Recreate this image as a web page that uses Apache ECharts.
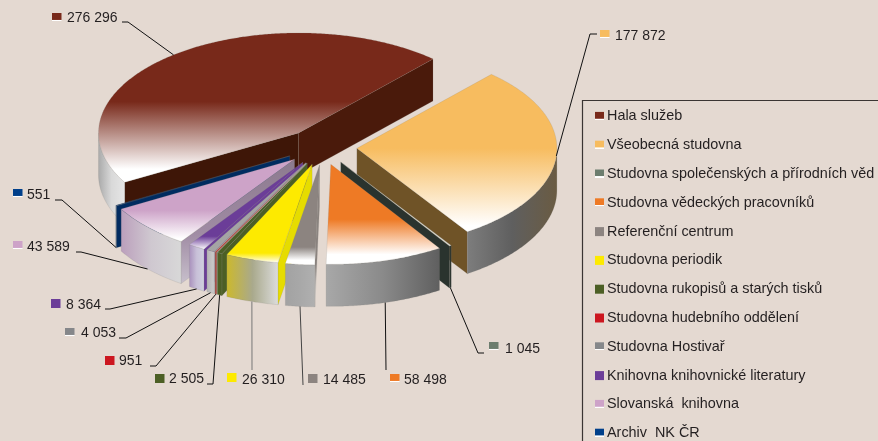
<!DOCTYPE html>
<html><head><meta charset="utf-8">
<style>html,body{margin:0;padding:0;background:#e4d9d1}#c{width:878px;height:441px}</style>
<script src="https://cdn.jsdelivr.net/npm/echarts@6/dist/echarts.min.js"></script>
</head><body><div id="c"></div>
<script>
const categories=['Hala služeb','Všeobecná studovna','Studovna společenských a přírodních věd','Studovna vědeckých pracovníků','Referenční centrum','Studovna periodik','Studovna rukopisů a starých tisků','Studovna hudebního oddělení','Studovna Hostivař','Knihovna knihovnické literatury','Slovanská  knihovna','Archiv  NK ČR'];
const values=[276296,177872,1045,58498,14485,26310,2505,951,4053,8364,43589,551];
const valueLabels=['276 296','177 872','1 045','58 498','14 485','26 310','2 505','951','4 053','8 364','43 589','551'];

// Pie projection
const START=209.6,RX=200,RY=100,CX=321,CY=147,EXPLODE=0.18,DEPTH=42;
const sliceNudge=[0,0,0,0,2,2,2,2,2,1,0,0];
const FONT='14px "Liberation Sans", Arial, sans-serif', TEXT='#231f20';
const rad=d=>d*Math.PI/180;
const total=values.reduce((a,b)=>a+b,0);
let cursor=START;
const geo=values.map((v,i)=>{const a0=cursor,a1=cursor-v/total*360;cursor=a1;const m=(a0+a1)/2;
  return {a0,a1,m,cx:CX+EXPLODE*RX*Math.cos(rad(m))+sliceNudge[i],cy:CY-EXPLODE*RY*Math.sin(rad(m))};});
const pt=(g,a,dy=0)=>[g.cx+RX*Math.cos(rad(a)),g.cy-RY*Math.sin(rad(a))+dy];
const samples=g=>{const s=[];for(let a=g.a0;a>g.a1;a-=0.5)s.push(a);s.push(g.a1);return s;};

const linear=(horizontal,stops)=>({type:'linear',x:0,y:0,x2:horizontal?1:0,y2:horizontal?0:1,
  colorStops:stops.map(([offset,color])=>({offset,color}))});
const fade=(c,solid,white)=>linear(false,[[0,c],[solid,c],[white,'#ffffff'],[1,'#ffffff']]);
const H=(...cs)=>linear(true,cs.map((c,i)=>[cs.length>1?i/(cs.length-1):0,c]));

const sliceStyle=[
 {top:fade('#78291a',.46,.91),w0:'#3e1607',w1:'#4a1a0b',arc:H('#a9a9a9','#d9d9d9','#e6e6e6')},
 {top:fade('#f7bc5f',.47,.96),w0:'#6f5327',w1:'#6f5327',arc:H('#7d7d7d','#5f5f5f','#6a5b42')},
 {top:'#d8d8d0',w0:'#2a332e',w1:'#2a332e',arc:H('#2a332e','#2a332e')},
 {top:fade('#ee7a25',.55,.9),w0:'#555',w1:'#555',arc:H('#a8a8a8','#8a8a8a','#5f5f5f')},
 {top:fade('#8c8480',.82,.95),w0:fade('#8c8480',.7,.98),w1:'#888',arc:H('#a2a2a2','#a8a8a8','#b0b0b0')},
 {top:fade('#fdea00',.9,1),w0:'#e6dc00',w1:'#e6dc00',arc:H('#ccb92c','#a9a98c','#dcdcdc')},
 {top:'#4c5f25',w0:'#4c5f25',w1:'#4c5f25',arc:H('#4c5f25','#4c5f25')},
 {top:'#b9453c',w0:'#c8c8c8',w1:'#c8c8c8',arc:H('#a8483f','#a8483f')},
 {top:'#a4a4a4',w0:'#b8b8b8',w1:'#b8b8b8',arc:H('#b4b4b4','#cccccc')},
 {top:fade('#6b3d98',.85,1),w0:'#6b3d98',w1:'#6b3d98',arc:H('#a890bc','#c8c0d8','#d0d0e0')},
 {top:fade('#cda3c8',.62,.96),w0:linear(false,[[0,'#8c7a8e'],[.6,'#a08ca4'],[1,'#c8c0cc']]),w1:'#8c7a8e',arc:H('#bb9fbc','#cfc8d0','#d8d8d8')},
 {top:'#002b60',w0:'#002b60',w1:'#002b60',arc:H('#002b60','#002b60')}
];
const swatchColor=['#78291a','#f7bc5f','#6c7d6e','#ee7a25','#8c8480','#fdea00','#4c5f25','#cc1720','#85878a','#6b3d98','#cda3c8','#003f8a'];
const withStrip=[1,1,1,1,0,0,0,0,1,0,1,1];
const swatchFill=i=>withStrip[i]?linear(false,[[0,swatchColor[i]],[.72,swatchColor[i]],[.78,'#ffffff'],[.9,'#ffffff'],[.91,'#e4d9d1'],[1,'#e4d9d1']]):swatchColor[i];

// back slices first, then left-to-right across the front
const drawOrder=[0,1,2,3,11,10,9,8,7,6,5,4];

// layout of the callouts: swatch x,y, text x,y, leader elbow points
const callouts=[
 {sx:52,sy:13,tx:67,ty:18,elbow:[[128,22],[122,22]]},
 {sx:600,sy:30,tx:615,ty:36,elbow:[[590,34],[597,34]]},
 {sx:489,sy:342,tx:505,ty:349,elbow:[[478,353],[484,353]]},
 {sx:390,sy:374,tx:404,ty:380,elbow:[[386,370]]},
 {sx:308,sy:374,tx:323,ty:380,elbow:[[303,385]],line:'#444'},
 {sx:227,sy:373,tx:242,ty:380,elbow:[[252,370]],line:'#777'},
 {sx:155,sy:374,tx:169,ty:379,elbow:[[213,384],[207,384]]},
 {sx:105,sy:356,tx:119,ty:361,elbow:[[156,366],[150,366]]},
 {sx:65,sy:328,tx:81,ty:333,elbow:[[126,338],[119,338]]},
 {sx:51,sy:299,tx:66,ty:305,elbow:[[110,309],[105,309]]},
 {sx:13,sy:241,tx:27,ty:247,elbow:[[81,252],[76,252]]},
 {sx:13,sy:189,tx:27,ty:195,elbow:[[62,200],[55,200]]}
];

function renderSlice(i){
  const g=geo[i],st=sliceStyle[i],kids=[];
  const poly=(points,fill)=>kids.push({type:'polygon',shape:{points},style:{fill,stroke:'rgba(130,125,120,0.35)',lineWidth:0.5}});
  const wall=(a,fill)=>poly([[g.cx,g.cy],pt(g,a),pt(g,a,DEPTH),[g.cx,g.cy+DEPTH]],fill);
  if(Math.cos(rad(g.a0))<0) wall(g.a0,st.w0);
  if(Math.cos(rad(g.a1))>0) wall(g.a1,st.w1);
  const low=samples(g).filter(a=>Math.sin(rad(a))<=0.001);
  if(low.length>1) poly(low.map(a=>pt(g,a)).concat(low.slice().reverse().map(a=>pt(g,a,DEPTH))),st.arc);
  poly([[g.cx,g.cy]].concat(samples(g).map(a=>pt(g,a))),st.top);
  return {type:'group',children:kids};
}
function renderCallout(params){
  const i=params.dataIndex,c=callouts[i],g=geo[i],s=Math.sin(rad(g.m));
  const anchor=pt(g,g.m,s<-0.1?DEPTH:0);
  return {type:'group',children:[
    {type:'polyline',shape:{points:[anchor].concat(c.elbow)},style:{fill:'none',stroke:c.line||'#111',lineWidth:1}},
    {type:'rect',shape:{x:c.sx,y:c.sy,width:9.5,height:9},style:{fill:swatchFill(i)}},
    {type:'text',style:{x:c.tx,y:c.ty,text:valueLabels[i],font:FONT,fill:TEXT,align:'left',verticalAlign:'middle'}}
  ]};
}

const series=categories.map((name,i)=>({type:'custom',name,coordinateSystem:'none',z:3+drawOrder.indexOf(i),silent:true,
  data:[values[i]],renderItem:()=>renderSlice(i),itemStyle:{color:swatchColor[i]}}));
series.push({type:'custom',name:'labels',coordinateSystem:'none',z:40,silent:true,data:values.slice(),renderItem:renderCallout});

const chart=echarts.init(document.getElementById('c'),null,{renderer:'canvas'});
chart.setOption({
  animation:false,backgroundColor:'#e4d9d1',
  graphic:[{type:'rect',z:1,shape:{x:582.5,y:100.5,width:400,height:400},style:{fill:'none',stroke:'#3a3533',lineWidth:1.2}}],
  legend:{orient:'vertical',left:595,top:108,height:420,padding:0,itemWidth:9,itemHeight:9,itemGap:12,icon:'rect',
    selectedMode:false,textStyle:{fontFamily:'Liberation Sans',fontSize:14.4,color:TEXT,lineHeight:16.8,padding:[0,0,0,-2]},
    data:categories.map((name,i)=>({name,icon:'rect',itemStyle:{color:swatchFill(i)}}))},
  series
});
</script></body></html>
